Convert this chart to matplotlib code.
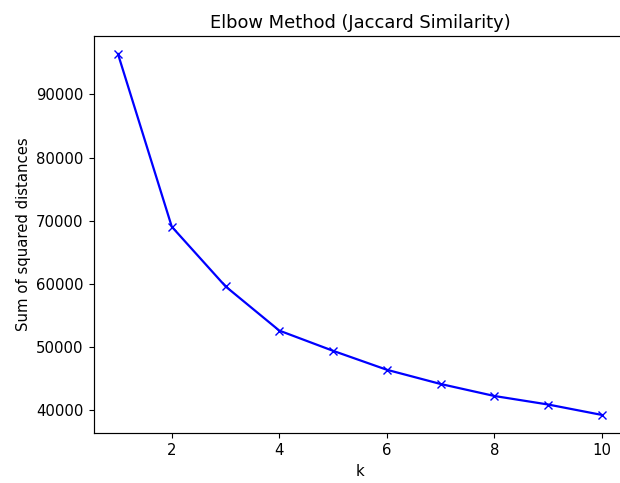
import matplotlib
matplotlib.use('Agg')
import matplotlib.pyplot as plt

k_values = [1, 2, 3, 4, 5, 6, 7, 8, 9, 10]
sse = [96380, 69050, 59600, 52600, 49400, 46400, 44150, 42250, 40900, 39250]

# reference looks like a slightly enlarged screenshot
s = 1.07
plt.rcParams.update({
    'font.size': 10 * s,
    'lines.linewidth': 1.5 * s,
    'lines.markersize': 6 * s,
    'xtick.major.size': 3.5 * s,
    'ytick.major.size': 3.5 * s,
    'axes.linewidth': 0.8 * s,
})


def main():
    fig = plt.figure(figsize=(6.2, 4.83), dpi=100)
    # the reference is cropped on the right, so the axes runs past the edge
    ax = fig.add_axes([93.8 / 620, 50 / 483, 532.4 / 620, 397 / 483])
    ax.plot(k_values, sse, 'bx-')
    ax.set_xlabel('k')
    ax.set_ylabel('Sum of squared distances')
    ax.set_title('Elbow Method (Jaccard Similarity)')
    fig.savefig('out.png', dpi=100)


if __name__ == "__main__":
    main()
